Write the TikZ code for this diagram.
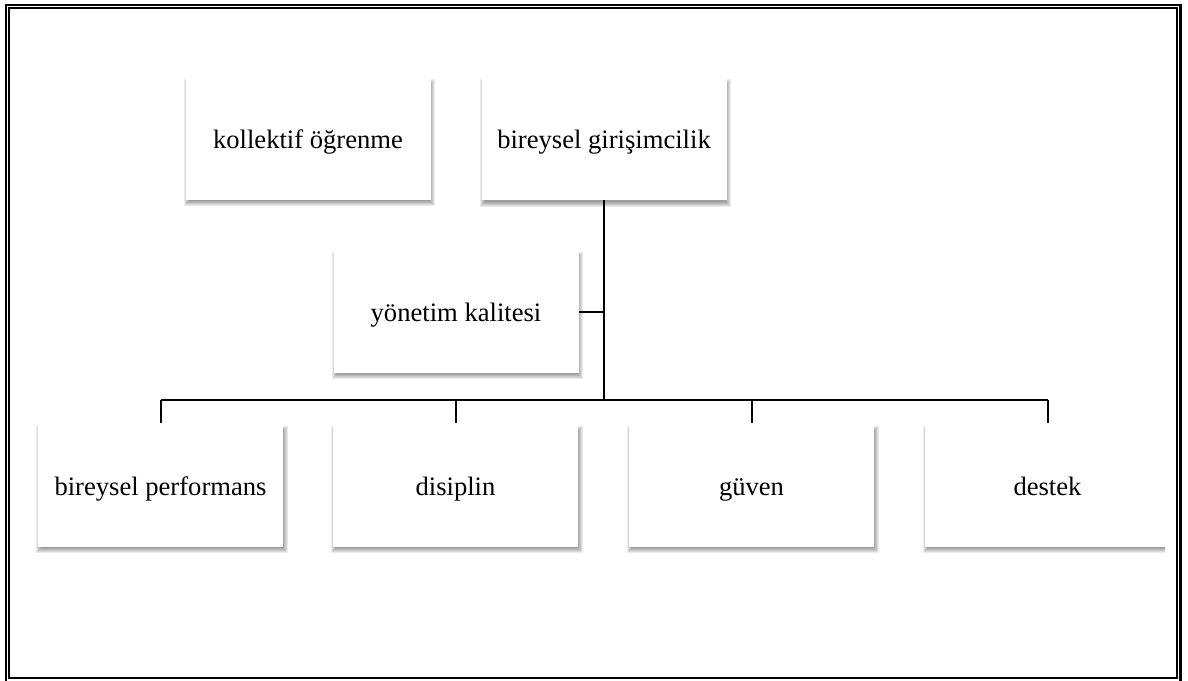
\documentclass[tikz,border=0pt]{standalone}
\usepackage{fontspec}
\setmainfont{Liberation Serif}
\usetikzlibrary{backgrounds}

\tikzset{
  box/.style={fill=white, minimum width=245pt, minimum height=121pt,
    inner sep=0pt, text height=24pt, text depth=6pt,
    font=\fontsize{26.6}{32}\selectfont},
  link/.style={line width=2pt, black},
  softshade/.style={fill=black, opacity=0.08},
}

% soft drop shadow below and to the right of a box
\newcommand\boxshadow[1]{%
  \foreach \e in {-2,-1,0,1,2,3}{%
    \fill[softshade]
      ([xshift={1.5pt-(\e)*1pt}, yshift={-3.5pt+(\e)*1pt}]#1.north west)
      rectangle
      ([xshift={1.5pt+(\e)*1pt}, yshift={-3.5pt-(\e)*1pt}]#1.south east);
  }%
}

\begin{document}
\begin{tikzpicture}[x=1pt, y=-1pt]
  \useasboundingbox (0,0) rectangle (1188,680);

  % double page frame
  \draw[line width=2.5pt] (6,5) rectangle (1180.5,684);
  \draw[line width=1.8pt] (9,8) rectangle (1177,678);

  % boxes
  \node[box] (ko) at (308,139)    {kollektif öğrenme};
  \node[box] (bg) at (604,139.5)  {bireysel girişimcilik};
  \node[box] (ym) at (456,312)    {yönetim kalitesi};
  \node[box] (bp) at (160.5,486)  {bireysel performans};
  \node[box] (ds) at (455.5,486)  {disiplin};
  \node[box] (gv) at (751.5,486)  {güven};
  \node[box] (dk) at (1047.5,486) {destek};

  % shadows behind the boxes
  \begin{scope}[on background layer]
    \clip (0,0) rectangle (1165,680);
    \boxshadow{ko}
    \boxshadow{bg}
    \boxshadow{ym}
    \boxshadow{bp}
    \boxshadow{ds}
    \boxshadow{gv}
    \boxshadow{dk}
  \end{scope}

  % connectors
  \coordinate (bus) at (604,400);
  \draw[link] (bg.south) -- (bus);
  \draw[link] (ym.east) -- (ym.east -| bg.south);
  \draw[link] (bp.north |- bus) -- (dk.north |- bus);
  \draw[link] (bp.north |- bus) -- ([yshift=2pt]bp.north);
  \draw[link] (ds.north |- bus) -- ([yshift=2pt]ds.north);
  \draw[link] (gv.north |- bus) -- ([yshift=2pt]gv.north);
  \draw[link] (dk.north |- bus) -- ([yshift=2pt]dk.north);
\end{tikzpicture}
\end{document}
